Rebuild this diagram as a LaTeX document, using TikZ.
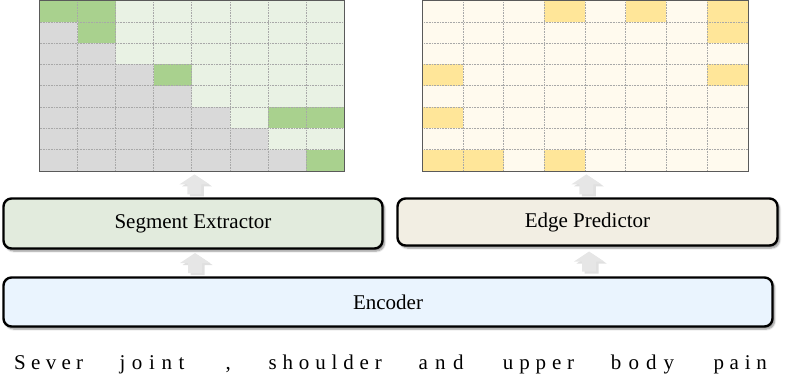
\documentclass[tikz,border=0pt]{standalone}
\usepackage{fontspec}
\setmainfont{Liberation Serif}
\usetikzlibrary{shadows.blur,calc}
\definecolor{gdark}{HTML}{A9D18E}
\definecolor{glight}{HTML}{E9F2E4}
\definecolor{ggray}{HTML}{D9D9D9}
\definecolor{ydark}{HTML}{FFE699}
\definecolor{ylight}{HTML}{FFFAEE}
\definecolor{segfill}{HTML}{E2EBDD}
\definecolor{edgefill}{HTML}{F2EEE3}
\definecolor{encfill}{HTML}{EAF4FE}
\definecolor{arrowfill}{HTML}{E6E6E6}
\definecolor{gridline}{HTML}{A8A8A8}
\definecolor{gridborder}{HTML}{5A5A5A}
\begin{document}
\begin{tikzpicture}[x=1pt,y=-1pt,
  modbox/.style={draw=black, line width=2.4pt, rounded corners=8pt,
    blur shadow={shadow xshift=2pt, shadow yshift=-2.5pt, shadow blur steps=6, shadow opacity=45},
    inner sep=0pt, font=\fontsize{21}{25}\selectfont},
  gl/.style={draw=gridline, line width=0.6pt, densely dotted},
  gb/.style={draw=gridborder, line width=1pt},
  word/.style={inner sep=0pt, anchor=base west, font=\fontsize{21}{25}\selectfont},
  uparrow/.pic={
    \fill[black!35, opacity=0.35] (-4.5,12) -- (-4.5,2) -- (-12.5,2) -- (2.5,-8) -- (17.5,2) -- (9.5,2) -- (9.5,12) -- cycle;
    \fill[arrowfill] (-7,10) -- (-7,0) -- (-15,0) -- (0,-10) -- (15,0) -- (7,0) -- (7,10) -- cycle;
  }]
\useasboundingbox (0,0) rectangle (789,387);

% ---------- left grid ----------
\path (39.5,0.5) node[inner sep=0pt, minimum width=304.5pt, minimum height=170.5pt, anchor=north west] (lgrid) {};
\fill[glight] (lgrid.north west) rectangle (lgrid.south east);
\foreach \r in {1,...,7}
  \fill[ggray] (39.5,0.5+\r*21.3125) rectangle (39.5+\r*38.0625,0.5+\r*21.3125+21.3125);
\foreach \r/\c in {0/0,0/1,1/1,3/3,5/6,5/7,7/7}
  \fill[gdark] (39.5+\c*38.0625,0.5+\r*21.3125) rectangle (39.5+\c*38.0625+38.0625,0.5+\r*21.3125+21.3125);
\foreach \i in {1,...,7} {
  \draw[gl] (39.5+\i*38.0625,0.5) -- (39.5+\i*38.0625,171);
  \draw[gl] (39.5,0.5+\i*21.3125) -- (344,0.5+\i*21.3125);
}
\draw[gb] (lgrid.north west) rectangle (lgrid.south east);

% ---------- right grid ----------
\path (422.3,0.5) node[inner sep=0pt, minimum width=325.4pt, minimum height=170.5pt, anchor=north west] (rgrid) {};
\fill[ylight] (rgrid.north west) rectangle (rgrid.south east);
\foreach \r/\c in {0/3,0/5,0/7,1/7,3/0,3/7,5/0,7/0,7/1,7/3}
  \fill[ydark] (422.3+\c*40.675,0.5+\r*21.3125) rectangle (422.3+\c*40.675+40.675,0.5+\r*21.3125+21.3125);
\foreach \i in {1,...,7} {
  \draw[gl] (422.3+\i*40.675,0.5) -- (422.3+\i*40.675,171);
  \draw[gl] (422.3,0.5+\i*21.3125) -- (747.7,0.5+\i*21.3125);
}
\draw[gb] (rgrid.north west) rectangle (rgrid.south east);

% ---------- modules ----------
\node[modbox, fill=segfill, minimum width=379pt, minimum height=50pt] (seg) at (193,223.5) {Segment Extractor};
\node[modbox, fill=edgefill, minimum width=380pt, minimum height=47pt] (edge) at (587.5,222) {Edge Predictor};
\node[modbox, fill=encfill, minimum width=769pt, minimum height=49pt] (enc) at (388,302) {Encoder};

% ---------- block arrows ----------
\path ([xshift=2pt]$(seg.north)!0.5!(lgrid.south)$) pic {uparrow};
\path ($(edge.north)!0.5!(rgrid.south)$) pic {uparrow};
\path ([xshift=2pt]$(enc.north -| seg.south)!0.5!(seg.south)$) pic {uparrow};
\path ([xshift=1.5pt]$(enc.north -| edge.south)!0.5!(edge.south)$) pic {uparrow};

% ---------- input tokens ----------
\node[word] (t1) at (14,369.4) {\hbox to 69pt{S\hfil e\hfil v\hfil e\hfil r}};
\node[word] (t2) at (119.3,369.4) {\hbox to 65pt{j\hfil o\hfil i\hfil n\hfil t}};
\node[word] (t3) at (225.5,369.4) {,};
\node[word] (t4) at (268.3,369.4) {\hbox to 113.4pt{s\hfil h\hfil o\hfil u\hfil l\hfil d\hfil e\hfil r}};
\node[word] (t5) at (418.3,369.4) {\hbox to 45pt{a\hfil n\hfil d}};
\node[word] (t6) at (502.7,369.4) {\hbox to 71.3pt{u\hfil p\hfil p\hfil e\hfil r}};
\node[word] (t7) at (610.7,369.4) {\hbox to 63.3pt{b\hfil o\hfil d\hfil y}};
\node[word] (t8) at (713.3,369.4) {\hbox to 53.4pt{p\hfil a\hfil i\hfil n}};
\end{tikzpicture}
\end{document}
